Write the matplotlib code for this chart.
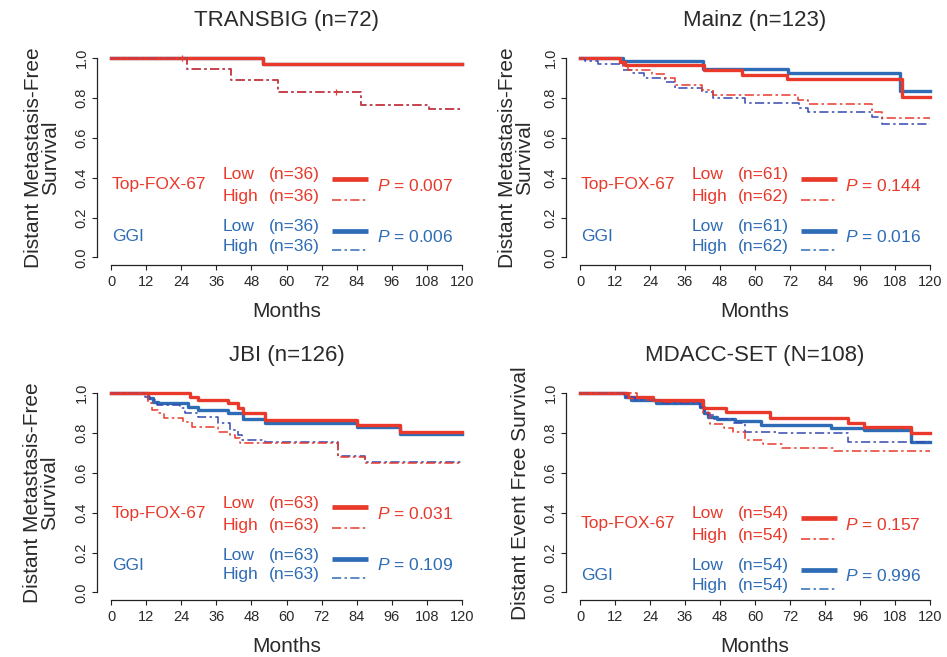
import matplotlib
matplotlib.use('Agg')
import matplotlib.pyplot as plt

plt.rcParams['font.family'] = ['Liberation Sans', 'DejaVu Sans']
plt.rcParams['mathtext.fontset'] = 'custom'
plt.rcParams['mathtext.it'] = 'Liberation Sans:italic'
plt.rcParams['mathtext.rm'] = 'Liberation Sans'

RED = '#E8392B'
BLUE = '#2E6CB5'
BLUE_D = '#3548B3'
TXT = '#2a2a2a'

END_MONTH = 120
month_ticks = list(range(0, 121, 12))
surv_ticks = [0.0, 0.2, 0.4, 0.6, 0.8, 1.0]
surv_tick_labels = ['0.0', '0.2', '0.4', '0.6', '0.8', '1.0']

titles = ['TRANSBIG (n=72)', 'Mainz (n=123)', 'JBI (n=126)', 'MDACC-SET (N=108)']
ylabels = ['Distant Metastasis-Free\nSurvival', 'Distant Metastasis-Free\nSurvival',
           'Distant Metastasis-Free\nSurvival', 'Distant Event Free Survival']
groups = ['Top-FOX-67', 'GGI']
n_low = [36, 61, 63, 54]
n_high = [36, 62, 63, 54]
p_fox = ['0.007', '0.144', '0.031', '0.157']
p_ggi = ['0.006', '0.016', '0.109', '0.996']

# ---------- TRANSBIG ----------
tb_fox_low_t = [0, 52]
tb_fox_low_s = [1.0, 0.972]
tb_fox_high_t = [0, 25.9, 41, 57, 85.4, 108.8]
tb_fox_high_s = [1.0, 0.944, 0.889, 0.833, 0.766, 0.744]
tb_ggi_low_t = [0, 52]
tb_ggi_low_s = [1.0, 0.972]
tb_ggi_high_t = [0, 25.9, 41, 57, 85.4, 108.8]
tb_ggi_high_s = [1.0, 0.944, 0.889, 0.833, 0.766, 0.744]

# ---------- Mainz ----------
mz_fox_low_t = [0, 13.7, 15.5, 42.5, 55.4, 70.9, 110.3]
mz_fox_low_s = [1.0, 0.983, 0.968, 0.940, 0.915, 0.895, 0.805]
mz_fox_high_t = [0, 13.7, 16.6, 24.6, 29, 32.6, 41.7, 45.7, 74.8, 78.3, 100, 103.4]
mz_fox_high_s = [1.0, 0.968, 0.941, 0.920, 0.900, 0.866, 0.841, 0.816, 0.791, 0.769, 0.732, 0.702]
mz_ggi_low_t = [0, 14.9, 42.3, 71.4, 109.7]
mz_ggi_low_s = [1.0, 0.985, 0.947, 0.926, 0.838]
mz_ggi_high_t = [0, 1.7, 6.3, 14.9, 17.7, 22, 29, 32.6, 41.7, 45.7, 56.6, 75, 78.3, 100, 103.4]
mz_ggi_high_s = [1.0, 0.987, 0.970, 0.942, 0.925, 0.903, 0.880, 0.850, 0.833, 0.800, 0.774, 0.749, 0.732, 0.707, 0.669]

# ---------- JBI ----------
jb_fox_low_t = [0, 27, 29.9, 40.1, 43.5, 45.2, 52.6, 84, 98.8]
jb_fox_low_s = [1.0, 0.983, 0.966, 0.949, 0.925, 0.899, 0.866, 0.841, 0.807]
jb_fox_high_t = [0, 12.8, 14, 16, 18, 24.7, 27.6, 36.7, 40.7, 42.4, 44.1, 77.7, 86.8]
jb_fox_high_s = [1.0, 0.950, 0.916, 0.899, 0.874, 0.857, 0.832, 0.807, 0.790, 0.774, 0.749, 0.679, 0.648]
jb_ggi_low_t = [0, 12.8, 14.5, 16.2, 26.4, 29.9, 40.1, 45.2, 52.6, 84, 98.8]
jb_ggi_low_s = [1.0, 0.975, 0.958, 0.949, 0.933, 0.916, 0.899, 0.869, 0.849, 0.832, 0.794]
jb_ggi_high_t = [0, 11.6, 13.3, 15.6, 23.6, 25.3, 29.9, 36.7, 40.7, 43.5, 44.7, 52.6, 77.7, 86.8]
jb_ggi_high_s = [1.0, 0.983, 0.966, 0.941, 0.925, 0.899, 0.882, 0.849, 0.816, 0.790, 0.766, 0.757, 0.685, 0.657]

# ---------- MDACC-SET ----------
md_fox_low_t = [0, 16.5, 25, 42.3, 50, 65, 92, 97.5, 113.5]
md_fox_low_s = [1.0, 0.983, 0.966, 0.925, 0.905, 0.877, 0.852, 0.830, 0.800]
md_fox_high_t = [0, 19.5, 23, 28, 42, 44.6, 49.2, 52.6, 56.6, 62.9, 69.2, 87]
md_fox_high_s = [1.0, 0.983, 0.966, 0.958, 0.900, 0.845, 0.824, 0.807, 0.766, 0.745, 0.724, 0.712]
md_ggi_low_t = [0, 15.5, 17.5, 26, 41, 42.5, 44, 47, 53, 62, 86, 97.5, 113.5]
md_ggi_low_s = [1.0, 0.983, 0.966, 0.950, 0.930, 0.900, 0.880, 0.870, 0.860, 0.840, 0.826, 0.815, 0.755]
md_ggi_high_t = [0, 15, 19, 28, 41, 42.5, 44, 46, 52.5, 56.6, 68, 92]
md_ggi_high_s = [1.0, 0.983, 0.966, 0.950, 0.930, 0.907, 0.890, 0.869, 0.849, 0.807, 0.799, 0.757]

# censoring marks visible in TRANSBIG
tb_cens_t = [24.4, 77]
tb_cens_s = [1.0, 0.833]

curves = [
    (tb_fox_low_t, tb_fox_low_s, tb_fox_high_t, tb_fox_high_s, tb_ggi_low_t, tb_ggi_low_s, tb_ggi_high_t, tb_ggi_high_s),
    (mz_fox_low_t, mz_fox_low_s, mz_fox_high_t, mz_fox_high_s, mz_ggi_low_t, mz_ggi_low_s, mz_ggi_high_t, mz_ggi_high_s),
    (jb_fox_low_t, jb_fox_low_s, jb_fox_high_t, jb_fox_high_s, jb_ggi_low_t, jb_ggi_low_s, jb_ggi_high_t, jb_ggi_high_s),
    (md_fox_low_t, md_fox_low_s, md_fox_high_t, md_fox_high_s, md_ggi_low_t, md_ggi_low_s, md_ggi_high_t, md_ggi_high_s),
]

# ---------- layout ----------
W, H = 947, 657
fig = plt.figure(figsize=(W / 100, H / 100), dpi=100)
col_px = [(96.96, 476.04), (566.0, 944.0)]
row_px = [(50.34, 265.26), (385.34, 600.26)]
legend_base = [0.414, 0.414, 0.447, 0.394]
ylabel_off = [55, 50, 56, 46]

DASH = (6, 2.2, 1.6, 2.2)
LW_LOW = 2.4
LW_HIGH = 1.1


def step(ax, t, s, **kw):
    ax.step(list(t) + [END_MONTH], list(s) + [s[-1]], where='post', **kw)


for i in range(4):
    r, c = divmod(i, 2)
    x0, x1 = col_px[c]
    y0, y1 = row_px[r]
    ax = fig.add_axes([x0 / W, (H - y1) / H, (x1 - x0) / W, (y1 - y0) / H])
    ax.set_xlim(-4.8, 124.8)
    ax.set_ylim(-0.04, 1.04)
    for sp in ['top', 'right']:
        ax.spines[sp].set_visible(False)
    ax.spines['left'].set_bounds(0, 1)
    ax.spines['bottom'].set_bounds(0, 120)
    for sp in ['left', 'bottom']:
        ax.spines[sp].set_linewidth(0.9)
        ax.spines[sp].set_color('#222222')
    ax.set_xticks(month_ticks)
    ax.set_xticklabels([str(m) for m in month_ticks], fontsize=10.5, color=TXT)
    ax.set_yticks(surv_ticks)
    ax.set_yticklabels(surv_tick_labels, fontsize=10.5, color=TXT, rotation=90, va='center')
    ax.tick_params(axis='both', length=3.5, width=0.8, color='#222222')
    ax.tick_params(axis='x', pad=3.5)
    ax.tick_params(axis='y', pad=2.5)

    flt, fls, fht, fhs, glt, gls, ght, ghs = curves[i]
    step(ax, glt, gls, color=BLUE, lw=LW_LOW, zorder=3)
    step(ax, flt, fls, color=RED, lw=LW_LOW, zorder=4)
    step(ax, ght, ghs, color=BLUE_D, lw=LW_HIGH, dashes=DASH, zorder=5)
    step(ax, fht, fhs, color=RED, lw=LW_HIGH, dashes=DASH, zorder=6)
    if i == 0:
        ax.plot(tb_cens_t, tb_cens_s, ls='none', marker='|', ms=5, mew=0.9, color=RED, zorder=6)

    h = (y1 - y0)
    ax.text(0.5, 1 + 29.5 / h, titles[i], transform=ax.transAxes, ha='center', va='center',
            fontsize=16, color=TXT)
    ax.text(0.5, -46 / h, 'Months', transform=ax.transAxes, ha='center', va='center',
            fontsize=15, color=TXT)
    ax.text(-ylabel_off[i] / (x1 - x0), 0.5, ylabels[i], transform=ax.transAxes, ha='center',
            va='center', rotation=90, fontsize=15, color=TXT, linespacing=0.88)

    b = legend_base[i]
    fs = 12.5
    ax.text(0.3, b - 0.05, groups[0], color=RED, fontsize=fs, ha='left', va='center')
    ax.text(0.3, b - 0.31, groups[1], color=BLUE, fontsize=fs, ha='left', va='center')
    for col, yl, yh, pv in [(RED, b, b - 0.109, p_fox[i]), (BLUE, b - 0.26, b - 0.36, p_ggi[i])]:
        ax.text(38.3, yl, 'Low', color=col, fontsize=fs, ha='left', va='center')
        ax.text(38.3, yh, 'High', color=col, fontsize=fs, ha='left', va='center')
        ax.text(54, yl, '(n=%d)' % n_low[i], color=col, fontsize=fs, ha='left', va='center')
        ax.text(54, yh, '(n=%d)' % n_high[i], color=col, fontsize=fs, ha='left', va='center')
        ax.plot([75.6, 88], [yl - 0.02, yl - 0.02], color=col, lw=3.4, solid_capstyle='butt')
        ax.plot([75.6, 88], [yh - 0.015, yh - 0.015], color=col, lw=LW_HIGH, dashes=DASH)
        ax.text(90.8, (yl + yh) / 2, r'$\it{P}$ = ' + pv, color=col, fontsize=fs, ha='left', va='center')

fig.savefig('out.png', dpi=100)
